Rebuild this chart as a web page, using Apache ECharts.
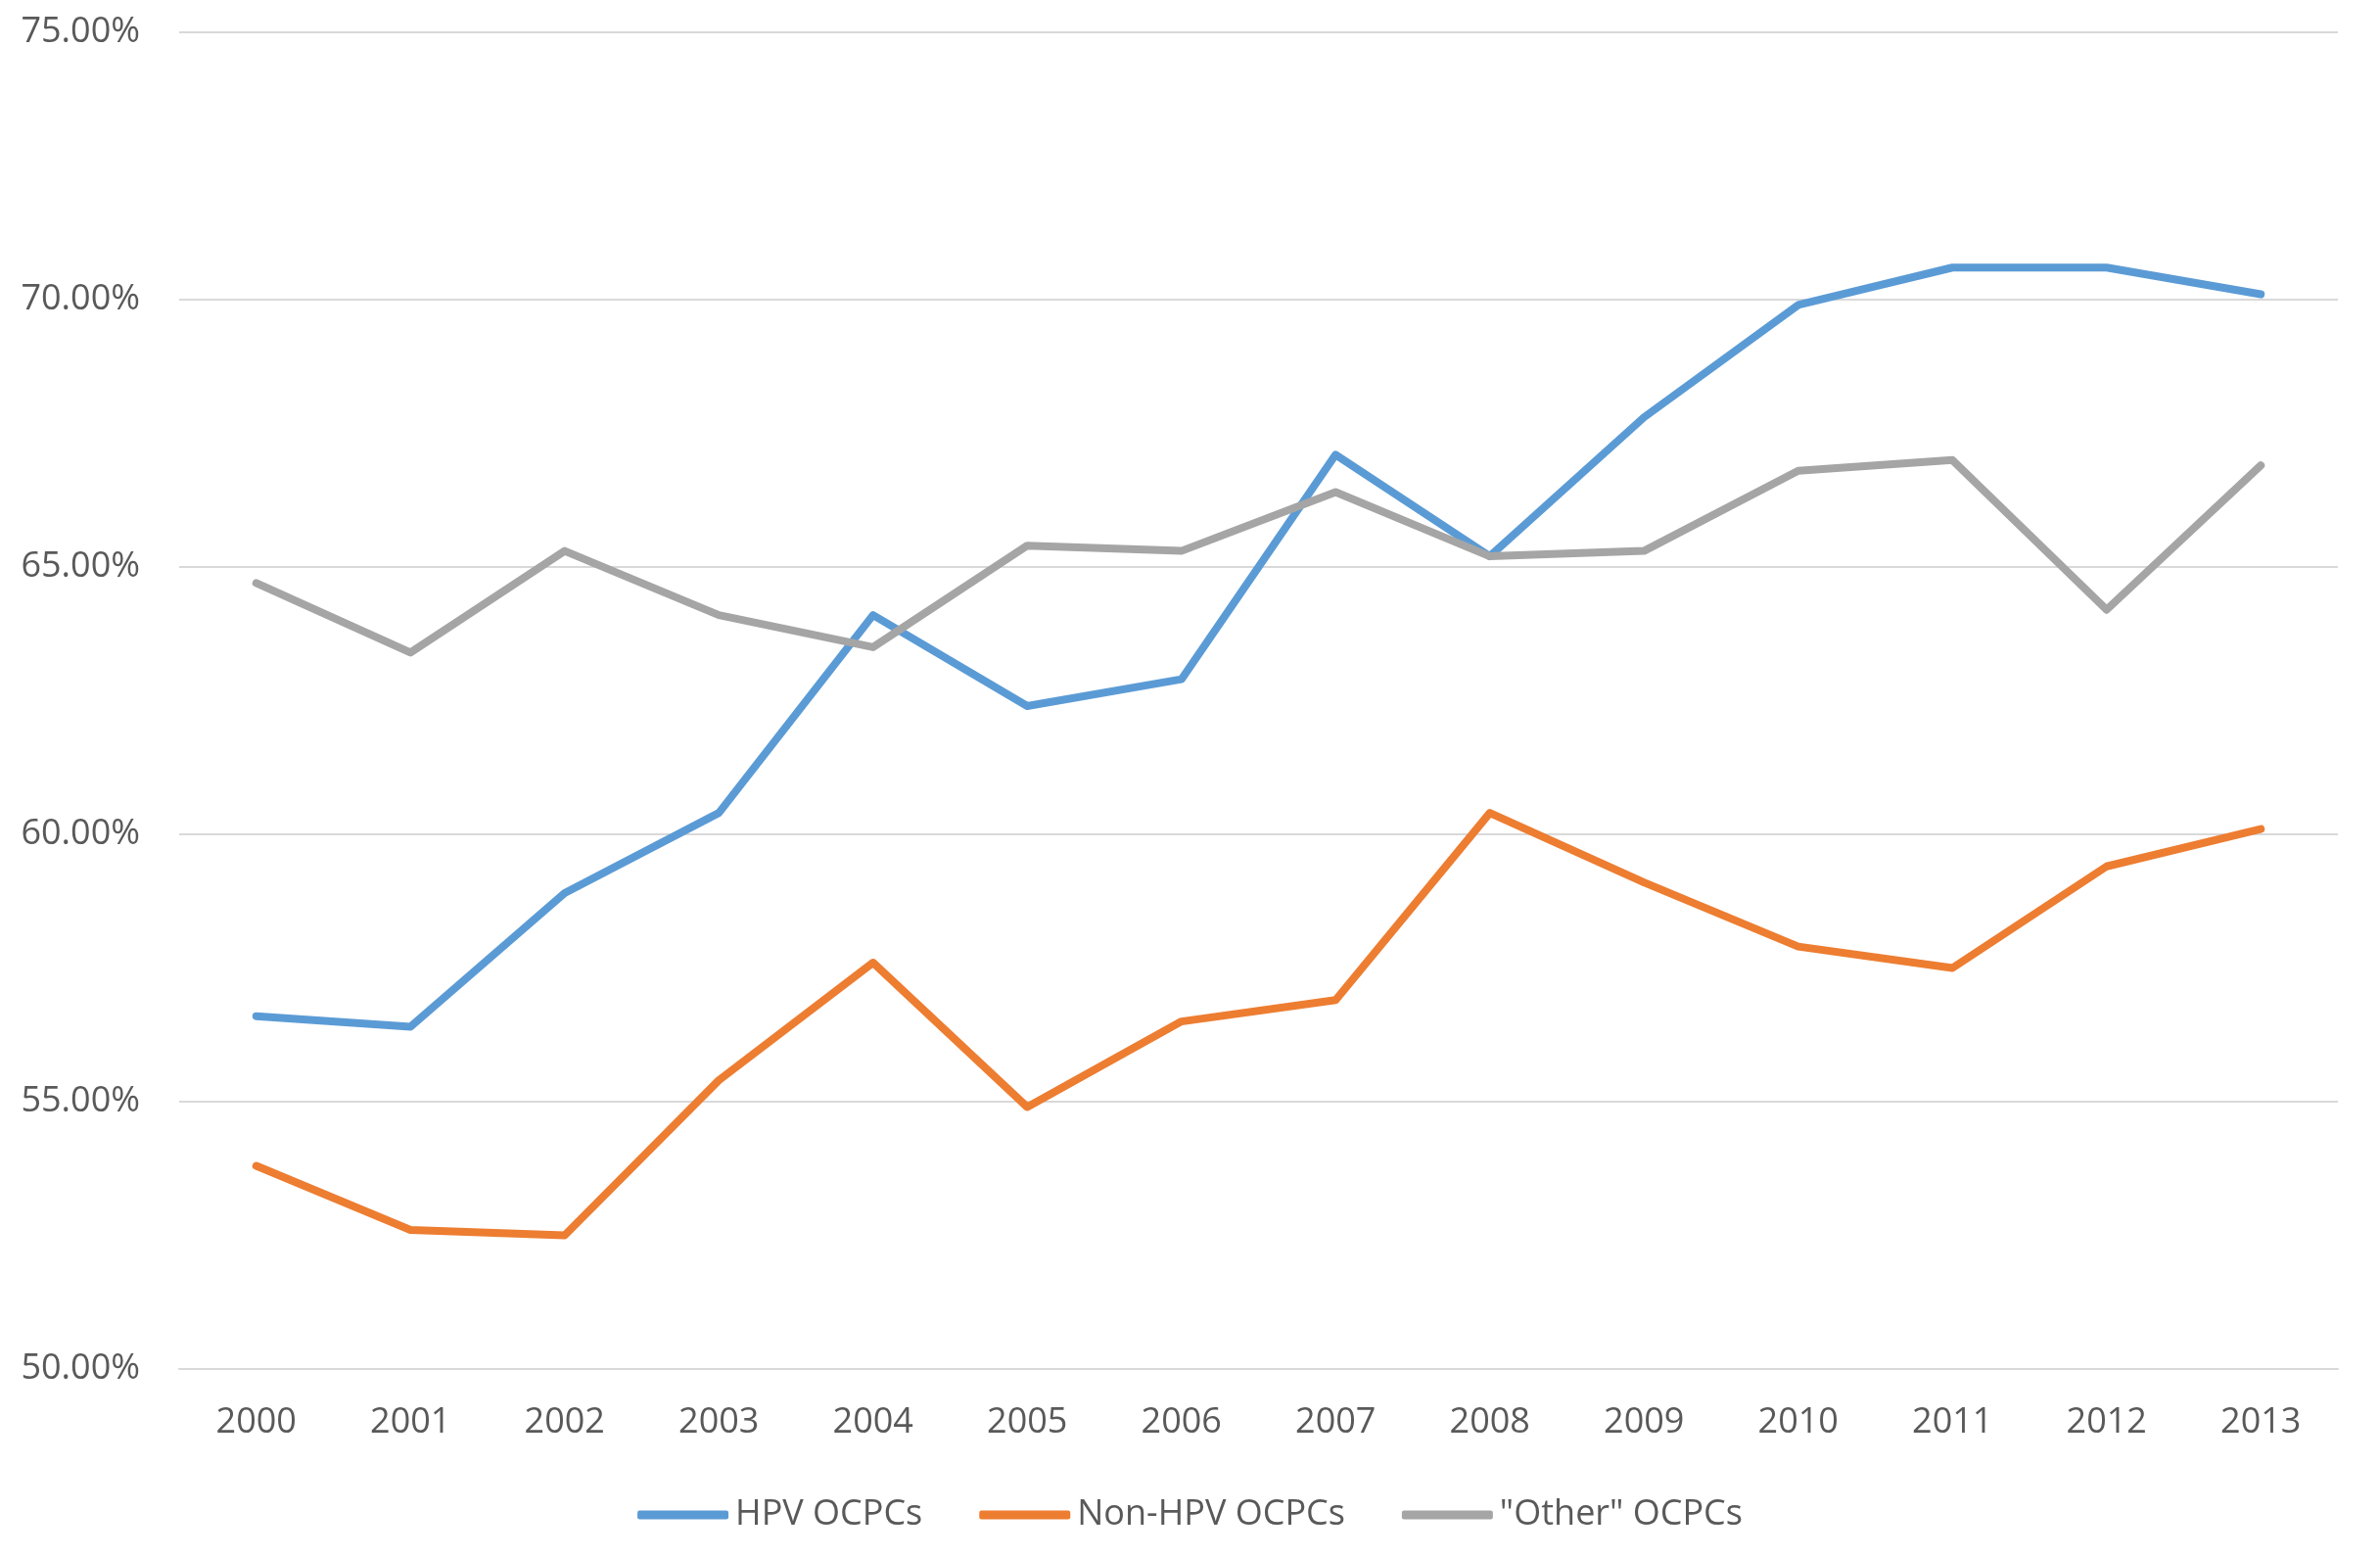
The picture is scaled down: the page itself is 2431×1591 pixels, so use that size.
<!DOCTYPE html>
<html>
<head>
<meta charset="utf-8">
<script src="https://cdn.jsdelivr.net/npm/echarts@6/dist/echarts.min.js"></script>
<style>
html,body{margin:0;padding:0;background:#fff;}
#chart{width:2431px;height:1591px;}
</style>
</head>
<body>
<div id="chart"></div>
<script>
const years = ['2000','2001','2002','2003','2004','2005','2006','2007','2008','2009','2010','2011','2012','2013'];
const hpv = [56.6, 56.4, 58.9, 60.4, 64.1, 62.4, 62.9, 67.1, 65.2, 67.8, 69.9, 70.6, 70.6, 70.1];
const nonHpv = [53.8, 52.6, 52.5, 55.4, 57.6, 54.9, 56.5, 56.9, 60.4, 59.1, 57.9, 57.5, 59.4, 60.1];
const other = [64.7, 63.4, 65.3, 64.1, 63.5, 65.4, 65.3, 66.4, 65.2, 65.3, 66.8, 67.0, 64.2, 66.9];
const seriesNames = ['HPV OCPCs', 'Non-HPV OCPCs', '"Other" OCPCs'];
const colors = ['#5B9BD5', '#ED7D31', '#A5A5A5'];

const chart = echarts.init(document.getElementById('chart'));
const font = '"Open Sans", "Noto Sans", sans-serif';
function mk(name, data, color) {
  return {
    name: name, type: 'line', data: data, symbol: 'none', showSymbol: false,
    color: color,
    lineStyle: {width: 8, color: color, cap: 'round', join: 'round'},
    itemStyle: {color: color},
    animation: false
  };
}
chart.setOption({
  backgroundColor: '#ffffff',
  animation: false,
  grid: {left: 183, right: 43, top: 33, bottom: 193, containLabel: false},
  legend: {
    data: seriesNames,
    left: 'center',
    top: 1524,
    icon: 'roundRect',
    itemWidth: 93,
    itemHeight: 9,
    itemGap: 58,
    textStyle: {fontFamily: font, fontSize: 36, color: '#595959', padding: [0,0,0,2]}
  },
  xAxis: {
    type: 'category',
    data: years,
    boundaryGap: true,
    axisLine: {show: true, lineStyle: {color: '#D9D9D9', width: 2}},
    axisTick: {show: false},
    axisLabel: {fontFamily: font, fontSize: 36, color: '#595959', margin: 37}
  },
  yAxis: {
    type: 'value',
    min: 50, max: 75, interval: 5,
    axisLine: {show: false},
    axisTick: {show: false},
    splitLine: {lineStyle: {color: '#D9D9D9', width: 2}},
    axisLabel: {fontFamily: font, fontSize: 36, color: '#595959', margin: 40,
      formatter: v => v.toFixed(2) + '%'}
  },
  series: [
    mk(seriesNames[0], hpv, colors[0]),
    mk(seriesNames[1], nonHpv, colors[1]),
    mk(seriesNames[2], other, colors[2])
  ]
});
</script>
</body>
</html>
